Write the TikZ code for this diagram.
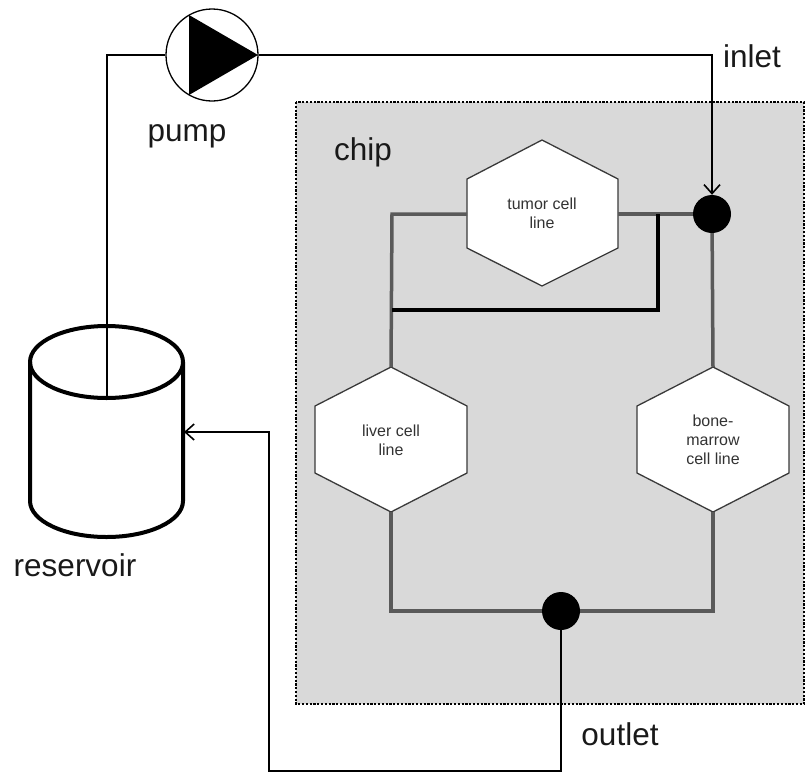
\documentclass[tikz,border=0pt]{standalone}
\usepackage{fontspec}
\setmainfont{Liberation Sans}
\usetikzlibrary{arrows.meta}
\definecolor{chipgray}{HTML}{D9D9D9}
\definecolor{pipegray}{HTML}{5A5A5A}
\definecolor{hexedge}{HTML}{3A3A3A}
\begin{document}
\begin{tikzpicture}[x=1pt,y=-1pt,
  bigtext/.style={font=\fontsize{31.5}{36}\selectfont, text=black!90, inner sep=0pt, anchor=base},
  hextext/.style={font=\fontsize{16}{19}\selectfont, text=black!80, align=center, inner sep=0pt},
  hexshape/.style={draw=hexedge, line width=1.3pt, fill=white},
  chippipe/.style={draw=pipegray, line width=3.5pt},
  bypass/.style={draw=black, line width=3.5pt},
  pipe/.style={draw=black, line width=2pt},
  junction/.style={circle, fill=black, minimum size=38pt, inner sep=0pt},
  openarrow/.style={-{Straight Barb[length=9pt,width=16pt,line width=1.6pt]}}
]
\useasboundingbox (0,0) rectangle (806,772);

% chip area
\path[fill=chipgray, draw=black, line width=2.4pt, dash pattern=on 2.2pt off 1.6pt]
  (296,102) rectangle (804,704);
\node[bigtext] (chiplabel) at (363,160) {chip};

% coordinates
\coordinate (inj) at (712,214);
\coordinate (outj) at (561,611);

% hexagons
\path[hexshape] (542,140) -- (618,179) -- (618,248) -- (542,286) -- (467,248) -- (467,179) -- cycle;
\node[hextext] (tumor) at (542,213) {tumor cell\\line};
\path[hexshape] (391,367) -- (467,406) -- (467,473) -- (391,512) -- (315,473) -- (315,406) -- cycle;
\node[hextext] (liver) at (391,440) {liver cell\\line};
\path[hexshape] (713,367) -- (789,406) -- (789,473) -- (713,512) -- (637,473) -- (637,406) -- cycle;
\node[hextext] (bone) at (713,440) {bone-\\marrow\\cell line};

\coordinate (tumorL) at (467,214);
\coordinate (tumorR) at (618,214);
\coordinate (liverT) at (391,367);
\coordinate (liverB) at (391,512);
\coordinate (boneT) at (713,367);
\coordinate (boneB) at (713,512);

% chip pipes
\draw[chippipe, line join=miter] (inj) -- (tumorR);
\draw[chippipe, line join=miter] (tumorL) -- (392,214) -- (liverT);
\draw[chippipe] (inj) -- (boneT);
\draw[chippipe, line join=miter] (liverB) -- (391,611) -- (713,611) -- (boneB);
\draw[bypass, line join=miter] (392,310) -- (658,310) -- (658,214);

% junctions
\node[junction] (injdot) at (inj) {};
\node[junction] (outjdot) at (outj) {};

% reservoir
\path[draw=black, fill=white, line width=4pt]
  (30,362) -- (30,501) arc[start angle=180, end angle=360, x radius=76.5pt, y radius=36pt]
  -- (183,362) arc[start angle=0, end angle=180, x radius=76.5pt, y radius=36pt] -- cycle;
\draw[black, line width=4pt] (30,362) arc[start angle=180, end angle=360, x radius=76.5pt, y radius=36pt];
\coordinate (resTop) at (107,398);
\coordinate (resIn) at (184,432);
\node[bigtext] (reslabel) at (75,576) {reservoir};

% pump
\node[circle, draw=black, line width=1.3pt, fill=white, minimum size=92pt, inner sep=0pt] (pump) at (212,55) {};
\fill[black] (189,15) -- (189,95) -- (258,55) -- cycle;
\node[bigtext] (pumplabel) at (187,141) {pump};

% outer pipes
\draw[pipe, line join=miter] (resTop) -- (107,55) -- (pump.west);
\draw[pipe, openarrow, line join=miter] (pump.east) -- (712,55) -- (injdot.north);
\node[bigtext] (inletlabel) at (752,67) {inlet};
\draw[pipe, openarrow, line join=miter] (outjdot.south) -- (561,771) -- (269,771) -- (269,432) -- (resIn);
\node[bigtext] (outletlabel) at (620,745) {outlet};
\end{tikzpicture}
\end{document}
